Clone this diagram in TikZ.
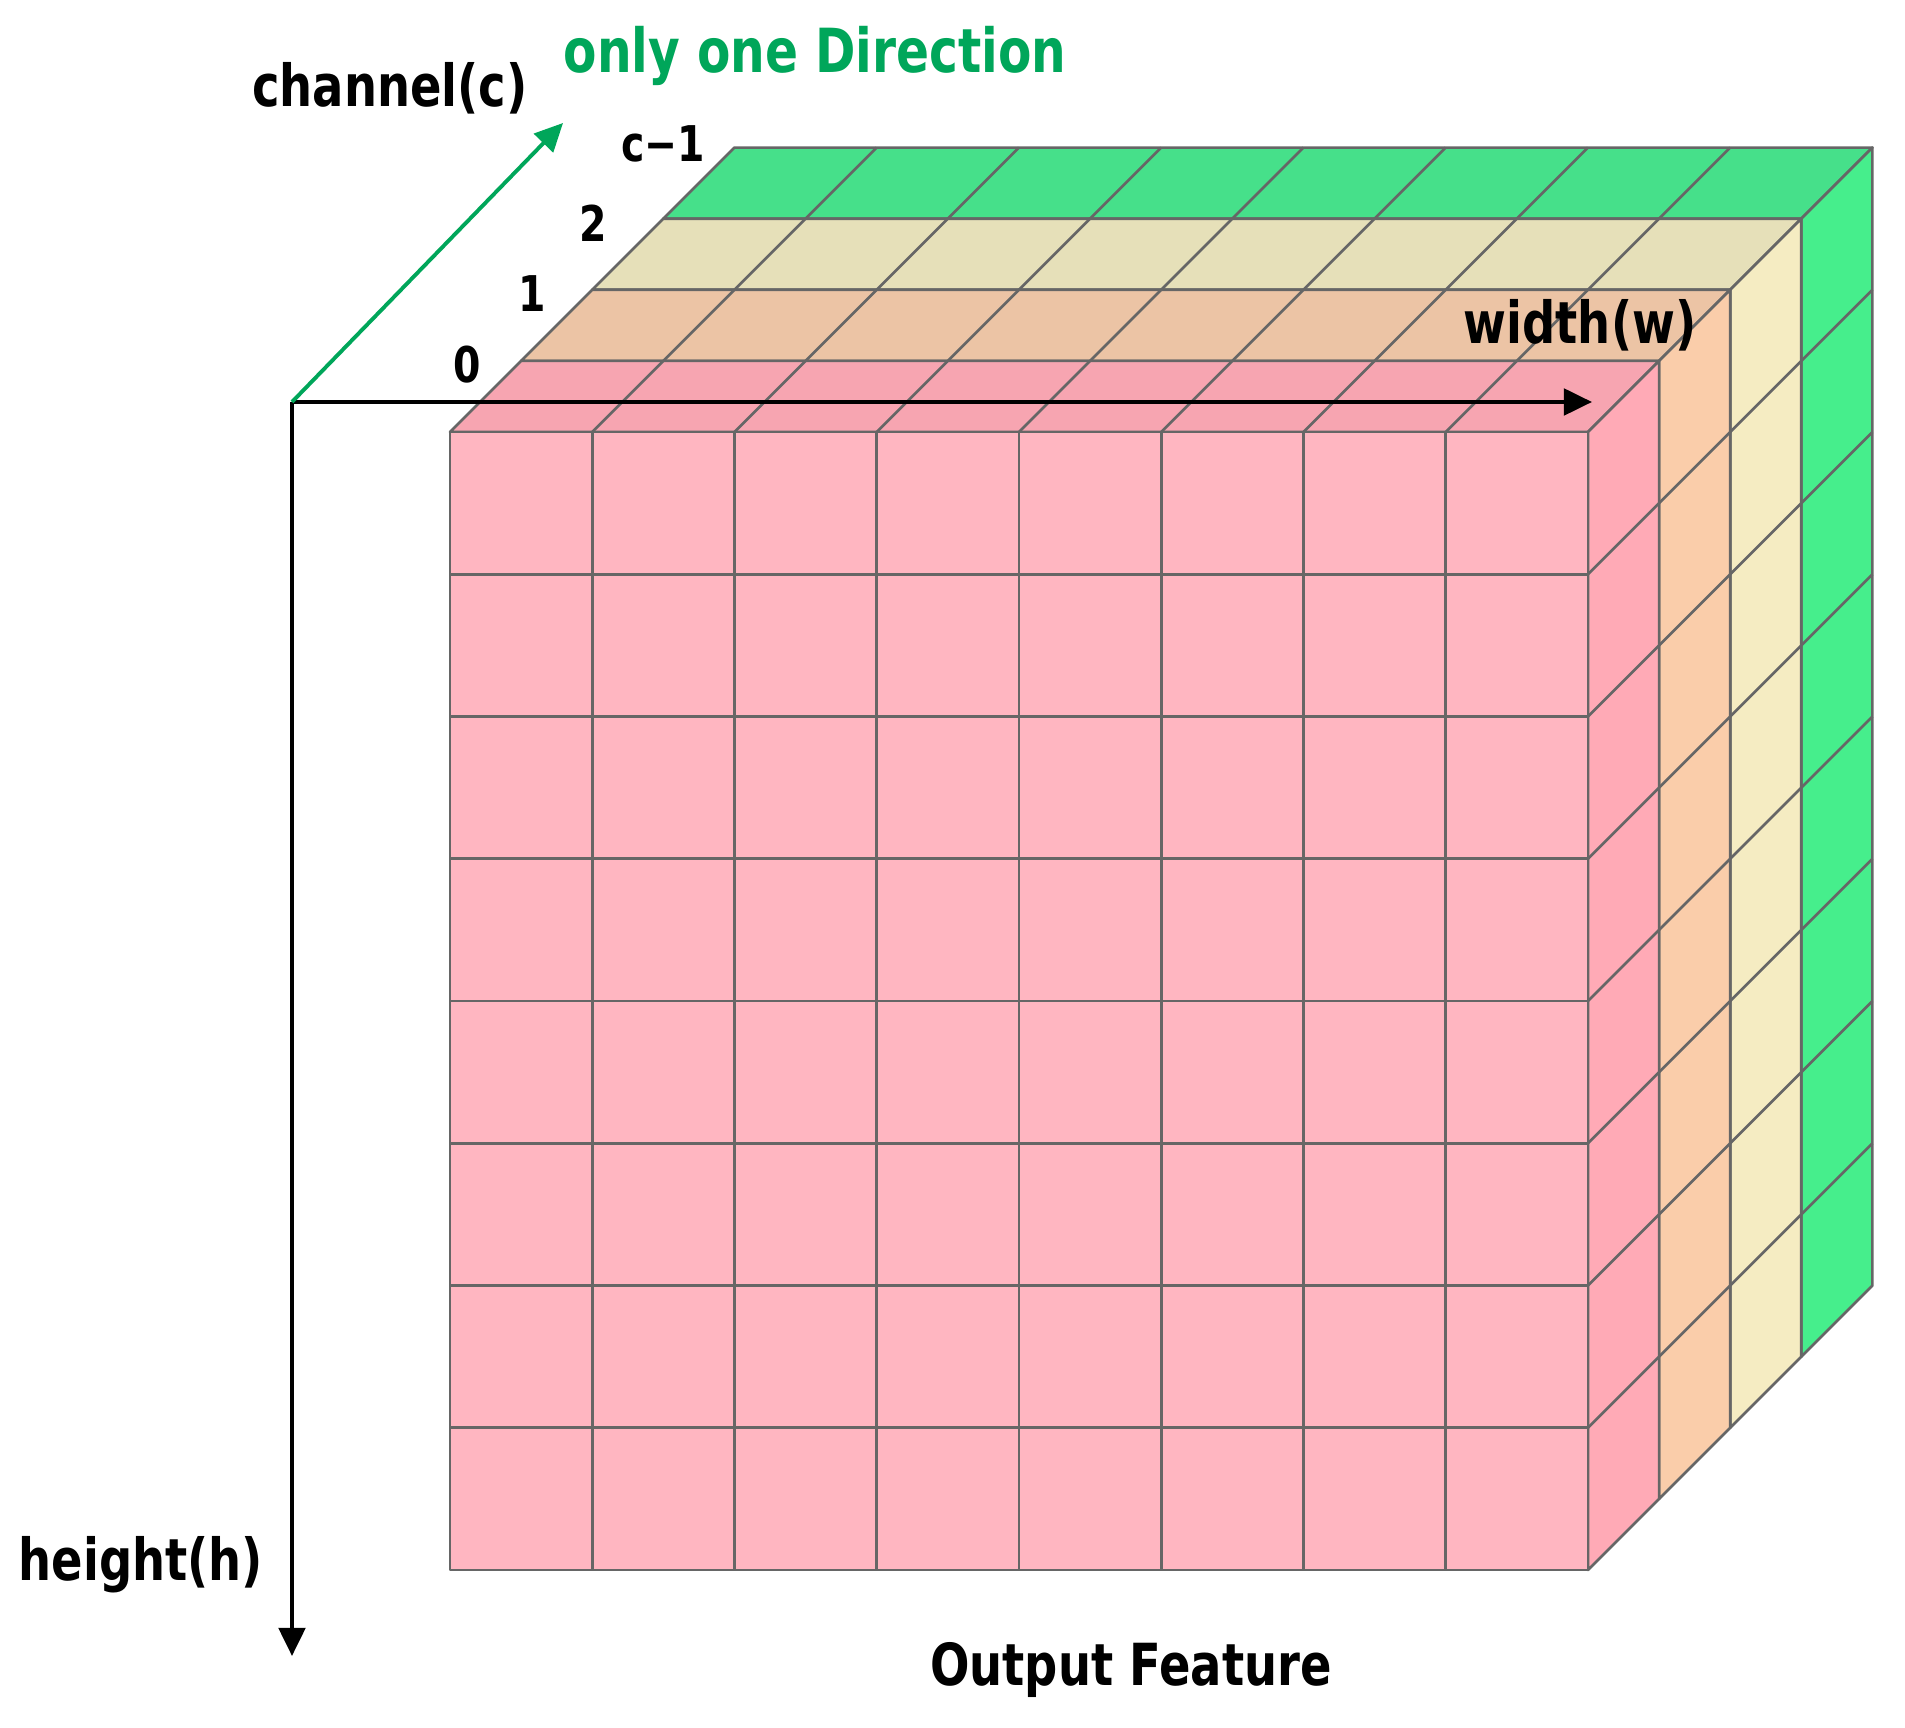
\documentclass[tikz,border=0pt]{standalone}
\usepackage{fontspec}
\newfontfamily\lblfont{DejaVu Sans}[FakeStretch=0.8]
\usetikzlibrary{arrows.meta}
\definecolor{pinkF}{HTML}{FFB6C1}
\definecolor{pinkT}{HTML}{F7A5B1}
\definecolor{pinkR}{HTML}{FFAAB6}
\definecolor{oraT}{HTML}{ECC4A5}
\definecolor{oraR}{HTML}{FACDAA}
\definecolor{yelT}{HTML}{E6E0B9}
\definecolor{yelR}{HTML}{F5ECC2}
\definecolor{grnT}{HTML}{46E08A}
\definecolor{grnR}{HTML}{46EE8C}
\definecolor{gridc}{HTML}{666666}
\definecolor{arrowgreen}{HTML}{00A65A}
\def\cellsz{142.25}
\def\dep{71.1}
\tikzset{
  cellline/.style={draw=gridc, line width=0.75pt, line join=round},
  lbl/.style={font=\lblfont\bfseries\fontsize{16.5}{20}\selectfont, inner sep=0pt, anchor=base},
  digit/.style={font=\lblfont\bfseries\fontsize{14}{17}\selectfont, inner sep=0pt, anchor=base},
  axisarrow/.style={line width=1.2pt, -{Triangle[length=8pt,width=7.5pt]}},
}
\begin{document}
\begin{tikzpicture}[x=0.01cm,y=-0.01cm]
\useasboundingbox (0,0) rectangle (1905,1728);
\fill[white] (0,0) rectangle (1905,1728);
% layers from back to front
\foreach \k/\topc/\sidec in {3/grnT/grnR, 2/yelT/yelR, 1/oraT/oraR, 0/pinkT/pinkR} {
  \begin{scope}[shift={(\k*\dep,-\k*\dep)}]
    \filldraw[cellline, fill=\topc] (450,432) -- (1588,432) -- ++(\dep,-\dep) -- (450+\dep,432-\dep) -- cycle;
    \foreach \i in {1,...,7} \draw[cellline] (450+\i*\cellsz,432) -- ++(\dep,-\dep);
    \filldraw[cellline, fill=\sidec] (1588,432) -- ++(\dep,-\dep) -- (1588+\dep,1570-\dep) -- (1588,1570) -- cycle;
    \foreach \j in {1,...,7} \draw[cellline] (1588,432+\j*\cellsz) -- ++(\dep,-\dep);
  \end{scope}
}
% front face of layer 0
\filldraw[cellline, fill=pinkF] (450,432) rectangle (1588,1570);
\foreach \i in {1,...,7} {
  \draw[cellline] (450+\i*\cellsz,432) -- (450+\i*\cellsz,1570);
  \draw[cellline] (450,432+\i*\cellsz) -- (1588,432+\i*\cellsz);
}
% axes
\coordinate (O) at (292,402);
\coordinate (wend) at (1592,402);
\coordinate (hend) at (292,1656);
\coordinate (cend) at (563,123);
\draw[axisarrow] (O) -- (wend);
\draw[axisarrow] (O) -- (hend);
\draw[axisarrow, draw=arrowgreen, fill=arrowgreen, line width=1.1pt] (O) -- (cend);
% labels
\node[lbl] (chan) at (390,107) {channel(c)};
\node[lbl, text=arrowgreen, font=\lblfont\bfseries\fontsize{17.3}{20}\selectfont] (dir) at (815,73) {only one Direction};
\node[lbl] (wid) at (1580,344) {width(w)};
\node[lbl] (hei) at (141,1580) {height(h)};
\node[lbl] (out) at (1131,1685) {Output Feature};
\node[digit] (d0) at (467,383) {0};
\node[digit] (d1) at (532,312) {1};
\node[digit] (d2) at (593,242) {2};
\node[digit] (dc) at (663,162) {c−1};
\end{tikzpicture}
\end{document}
